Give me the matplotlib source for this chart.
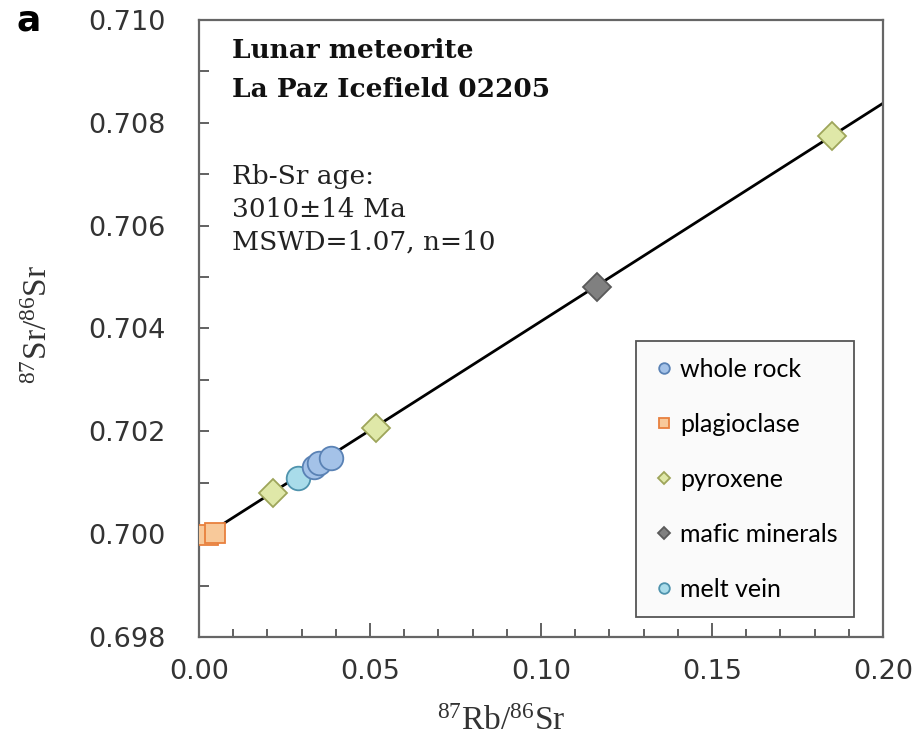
import numpy as np
import matplotlib.pyplot as plt
from matplotlib.ticker import MultipleLocator

plt.rcParams['mathtext.default'] = 'regular'

# Rb-Sr isochron data
wr_x = [0.0335, 0.0352, 0.0387]
wr_y = [0.70131, 0.70138, 0.70148]
plag_x = [0.0025, 0.0047]
plag_y = [0.69999, 0.70002]
pyx_x = [0.0215, 0.0517, 0.1851]
pyx_y = [0.70080, 0.70207, 0.70774]
mafic_x = [0.1164]
mafic_y = [0.70481]
melt_x = [0.0288]
melt_y = [0.70109]

# isochron fit
intercept = 0.69990
slope = 0.04240

fig = plt.figure(figsize=(9.24, 7.47), dpi=100)
ax = fig.add_axes([0.2154, 0.1473, 0.7403, 0.826])

xl = np.array([0.0, 0.2])
ax.plot(xl, intercept + slope * xl, 'k-', lw=2, zorder=2)

ax.plot(plag_x, plag_y, 's', ms=15, mfc='#f8c99a', mec='#e8803e', mew=1.3, label='plagioclase', zorder=3)
ax.plot(pyx_x, pyx_y, 'D', ms=14, mfc='#dfe8a8', mec='#9ea55a', mew=1.3, label='pyroxene', zorder=3)
ax.plot(melt_x, melt_y, 'o', ms=17, mfc='#a9dcea', mec='#4f93ad', mew=1.3, label='melt vein', zorder=3)
ax.plot(wr_x, wr_y, 'o', ms=17, mfc='#a4c2e8', mec='#5a82b5', mew=1.3, label='whole rock', zorder=3)
ax.plot(mafic_x, mafic_y, 'D', ms=14, mfc='#808080', mec='#5a5a5a', mew=1.3, label='mafic minerals', zorder=3)

ax.set_xlim(0, 0.2)
ax.set_ylim(0.698, 0.710)
ax.xaxis.set_major_locator(MultipleLocator(0.05))
ax.xaxis.set_minor_locator(MultipleLocator(0.01))
ax.yaxis.set_major_locator(MultipleLocator(0.002))
ax.yaxis.set_minor_locator(MultipleLocator(0.001))
ax.xaxis.set_major_formatter(plt.FormatStrFormatter('%.2f'))
ax.yaxis.set_major_formatter(plt.FormatStrFormatter('%.3f'))

ax.tick_params(axis='both', which='both', direction='in', color='#555555', width=1.3,
               labelsize=19.5, labelcolor='#333333')
ax.tick_params(axis='x', which='major', length=10, pad=16)
ax.tick_params(axis='x', which='minor', length=6)
ax.tick_params(axis='y', which='both', length=7, pad=24)
for s in ax.spines.values():
    s.set_color('#666666')
    s.set_linewidth(1.6)

ax.set_xlabel(r'$^{87}$Rb/$^{86}$Sr', family='Liberation Serif', fontsize=24, color='#333333')
ax.set_ylabel(r'$^{87}$Sr/$^{86}$Sr', family='Liberation Serif', fontsize=24, color='#333333')
ax.xaxis.set_label_coords(0.4415, -0.112)
ax.yaxis.set_label_coords(-0.212, 0.507)

# annotation text
txt = dict(transform=ax.transAxes, family='DejaVu Serif', fontsize=19, va='center')
ax.text(0.048, 0.951, 'Lunar meteorite', fontweight='bold', color='#111111', **txt)
ax.text(0.048, 0.887, 'La Paz Icefield 02205', fontweight='bold', color='#111111', **txt)
ax.text(0.048, 0.746, 'Rb-Sr age:', color='#222222', **txt)
ax.text(0.048, 0.692, '3010±14 Ma', color='#222222', **txt)
ax.text(0.048, 0.640, 'MSWD=1.07, n=10', color='#222222', **txt)

handles, labels = ax.get_legend_handles_labels()
order = ['whole rock', 'plagioclase', 'pyroxene', 'mafic minerals', 'melt vein']
hmap = dict(zip(labels, handles))
leg = ax.legend([hmap[k] for k in order], order, loc='lower left', bbox_to_anchor=(0.639, 0.0324),
                markerscale=0.45, handletextpad=0.2, handlelength=0.9, labelspacing=1.28,
                prop={'family': 'Lato', 'size': 18}, fancybox=False, framealpha=1,
                borderpad=0.65, borderaxespad=0)
leg.get_frame().set_edgecolor('#555555')
leg.get_frame().set_linewidth(1.3)
leg.get_frame().set_facecolor('#fafafa')

fig.text(0.031, 0.972, 'a', family='DejaVu Sans', fontweight='bold', fontsize=26, va='center', ha='center')

fig.savefig('out.png', dpi=100)
